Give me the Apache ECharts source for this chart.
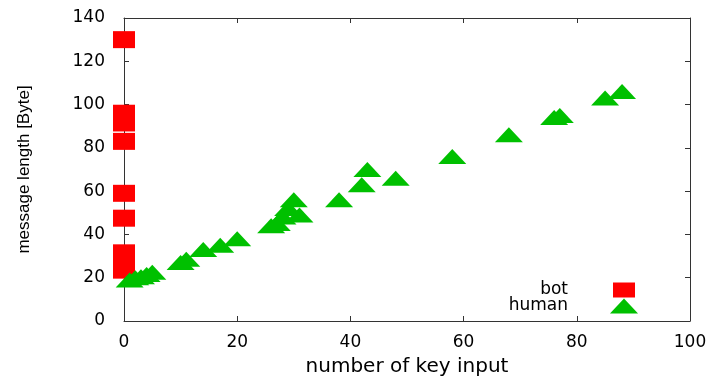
<!DOCTYPE html>
<html><head><meta charset="utf-8">
<script src="https://cdn.jsdelivr.net/npm/echarts@6/dist/echarts.min.js"></script>
<style>html,body{margin:0;padding:0;background:#fff}#c{width:712px;height:376px}</style>
</head><body><div id="c"></div>
<script>
// ---- data ----
const botX = [0, 0, 0, 0, 0, 0, 0, 0, 0];
const botY = [130, 96, 91.5, 83, 59, 47.5, 31.5, 27.5, 23.5];
const humanX = [88, 85, 77, 76, 68, 58, 48, 43, 42, 38, 30, 31, 29, 28, 27, 26, 20, 17, 14, 11, 10, 5, 4, 3, 2, 1];
const humanY = [106, 103, 95, 94, 86, 76, 66, 70, 63, 56, 56, 49, 52, 48, 45, 44, 38, 35, 33, 28.5, 27, 22.5, 21.5, 20.5, 20, 19];
const seriesNames = ['bot', 'human'];
const xTickRange = { min: 0, max: 100, interval: 20 };
const yTickRange = { min: 0, max: 140, interval: 20 };
const xName = 'number of key input';
const yName = 'message length [Byte]';

const pairs = (xs, ys) => xs.map((x, i) => [x, ys[i]]);
const axisColor = '#333';
const labelFont = { fontFamily: 'DejaVu Sans', fontSize: 17, color: '#000' };

function makeX(main) {
  return {
    type: 'value', min: xTickRange.min, max: xTickRange.max, interval: xTickRange.interval,
    position: main ? 'bottom' : 'top',
    name: main ? xName : '', nameLocation: 'middle', nameGap: 36,
    nameTextStyle: { fontFamily: 'DejaVu Sans', fontSize: 20, color: '#000' },
    axisLine: { show: true, onZero: false, lineStyle: { color: axisColor, width: 1 } },
    axisTick: { show: true, inside: true, length: 5, lineStyle: { color: axisColor } },
    axisLabel: Object.assign({ show: main, margin: 13 }, labelFont),
    splitLine: { show: false }
  };
}
function makeY(main) {
  return {
    type: 'value', min: yTickRange.min, max: yTickRange.max, interval: yTickRange.interval,
    position: main ? 'left' : 'right',
    name: main ? yName : '', nameLocation: 'middle', nameGap: 91, nameRotate: 90,
    nameTextStyle: { fontFamily: 'Liberation Sans', fontSize: 17, color: '#000' },
    axisLine: { show: true, onZero: false, lineStyle: { color: axisColor, width: 1 } },
    axisTick: { show: true, inside: true, length: 5, lineStyle: { color: axisColor } },
    axisLabel: Object.assign({ show: main, margin: 19 }, labelFont),
    splitLine: { show: false }
  };
}

const chart = echarts.init(document.getElementById('c'), null, { renderer: 'canvas' });
chart.setOption({
  animation: false,
  backgroundColor: '#fff',
  grid: { left: 124, right: 22, top: 18, bottom: 55, containLabel: false, outerBoundsMode: 'none' },
  xAxis: [makeX(true), makeX(false)],
  yAxis: [makeY(true), makeY(false)],
  legend: [
    {
      data: [{ name: seriesNames[0], icon: 'rect' }],
      orient: 'vertical', align: 'right', right: 77, top: 281.5, padding: 0,
      itemWidth: 22, itemHeight: 15, selectedMode: false,
      textStyle: { fontFamily: 'DejaVu Sans', fontSize: 17, color: '#000', lineHeight: 16, padding: [0, 40, 0, 0] }
    },
    {
      data: [{ name: seriesNames[1], icon: 'triangle' }],
      orient: 'vertical', align: 'right', right: 74, top: 297.5, padding: 0,
      itemWidth: 28, itemHeight: 15, selectedMode: false,
      textStyle: { fontFamily: 'DejaVu Sans', fontSize: 17, color: '#000', lineHeight: 16, padding: [0, 37, 0, 0] }
    }
  ],
  series: [
    {
      name: seriesNames[0], type: 'scatter', xAxisIndex: 0, yAxisIndex: 0,
      symbol: 'rect', symbolSize: [22, 17],
      itemStyle: { color: '#ff0000', opacity: 1 },
      data: pairs(botX, botY)
    },
    {
      name: seriesNames[1], type: 'scatter', xAxisIndex: 0, yAxisIndex: 0,
      symbol: 'triangle', symbolSize: [28, 15],
      itemStyle: { color: '#00c000', opacity: 1 },
      data: pairs(humanX, humanY)
    }
  ]
});
</script>
</body></html>
